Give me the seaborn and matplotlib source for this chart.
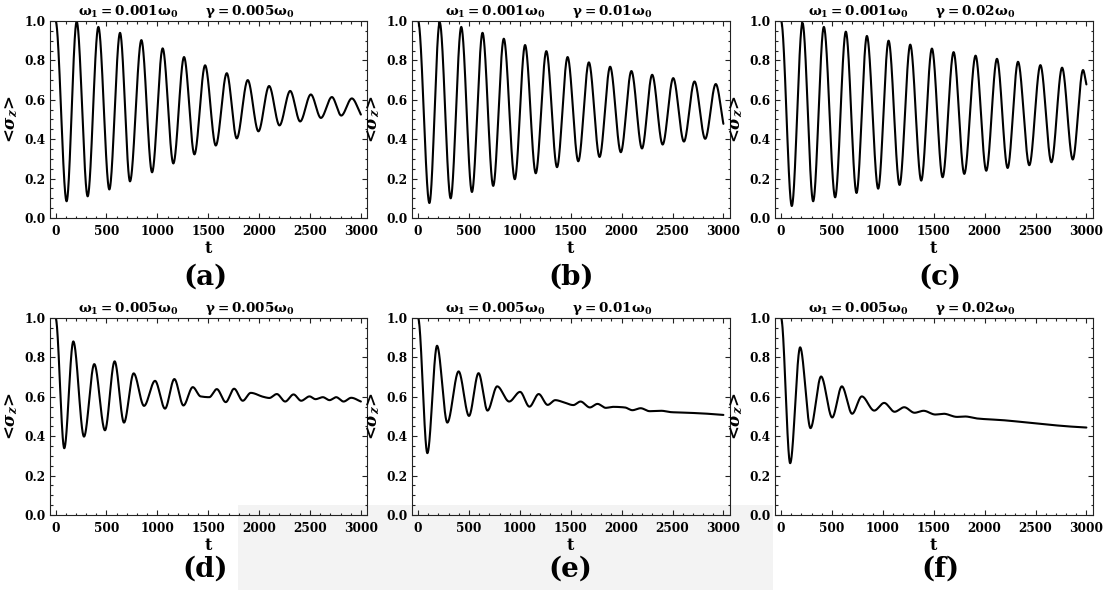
import numpy as np
import pandas as pd
import matplotlib
matplotlib.use("Agg")
import matplotlib.pyplot as plt
from matplotlib.ticker import FixedLocator, MultipleLocator, FixedFormatter
from matplotlib.patches import Rectangle
import seaborn as sns

# ---------------------------------------------------------------------------
# Extrema (and a few shoulder points) of <sigma_z>(t) for each parameter set
# ---------------------------------------------------------------------------
t_a = [0, 108, 207, 315, 420, 528, 633, 731, 843, 948, 1052, 1157, 1262, 1364,
       1469, 1574, 1682, 1780, 1888, 1993, 2098, 2200, 2305, 2403, 2508, 2607,
       2715, 2807, 2911, 3000]
sz_a = [1.0, 0.085, 0.997, 0.11, 0.97, 0.145, 0.94, 0.186, 0.903, 0.232, 0.861,
        0.277, 0.817, 0.323, 0.775, 0.368, 0.735, 0.404, 0.70, 0.44, 0.67, 0.47,
        0.645, 0.49, 0.627, 0.508, 0.614, 0.52, 0.607, 0.525]

t_b = [0, 111, 212, 320, 424, 529, 633, 738, 842, 950, 1051, 1156, 1260, 1365,
       1469, 1574, 1678, 1783, 1887, 1992, 2096, 2200, 2300, 2403, 2507, 2612,
       2716, 2821, 2925, 3000]
sz_b = [1.0, 0.076, 0.993, 0.10, 0.97, 0.132, 0.94, 0.163, 0.91, 0.197, 0.878,
        0.227, 0.847, 0.258, 0.817, 0.288, 0.79, 0.31, 0.768, 0.334, 0.746, 0.353,
        0.727, 0.373, 0.71, 0.388, 0.693, 0.402, 0.68, 0.478]

t_c = [0, 105, 210, 315, 420, 531, 636, 741, 843, 954, 1056, 1164, 1269, 1377,
       1482, 1587, 1695, 1800, 1911, 2016, 2121, 2226, 2328, 2439, 2548, 2656,
       2761, 2866, 2967, 3000]
sz_c = [1.0, 0.061, 0.99, 0.085, 0.97, 0.105, 0.946, 0.127, 0.924, 0.149, 0.90,
        0.168, 0.88, 0.19, 0.86, 0.207, 0.842, 0.224, 0.824, 0.24, 0.808, 0.254,
        0.793, 0.268, 0.776, 0.283, 0.763, 0.297, 0.751, 0.678]

t_d = [0, 85, 174, 279, 380, 485, 580, 672, 767, 869, 977, 1075, 1167, 1256,
       1348, 1425, 1510, 1584, 1672, 1754, 1839, 1918, 2040, 2100, 2174, 2256,
       2338, 2413, 2495, 2554, 2626, 2692, 2757, 2830, 2905, 3000]
sz_d = [1.0, 0.339, 0.881, 0.398, 0.766, 0.43, 0.78, 0.469, 0.719, 0.554, 0.681,
        0.54, 0.69, 0.556, 0.649, 0.602, 0.598, 0.639, 0.573, 0.641, 0.58, 0.62,
        0.600, 0.594, 0.614, 0.576, 0.612, 0.58, 0.602, 0.588, 0.598, 0.583,
        0.598, 0.576, 0.595, 0.576]

t_e = [0, 91, 186, 287, 398, 500, 594, 682, 777, 895, 1002, 1094, 1185, 1273,
       1348, 1427, 1525, 1596, 1688, 1763, 1844, 1916, 2031, 2106, 2187, 2275,
       2390, 2488, 2651, 2814, 3000]
sz_e = [1.0, 0.314, 0.859, 0.469, 0.729, 0.503, 0.72, 0.53, 0.653, 0.576, 0.625,
        0.55, 0.614, 0.559, 0.583, 0.573, 0.558, 0.576, 0.546, 0.564, 0.544,
        0.549, 0.546, 0.532, 0.542, 0.527, 0.529, 0.522, 0.519, 0.515, 0.508]

t_f = [0, 89, 187, 289, 393, 502, 597, 698, 793, 915, 1013, 1115, 1210, 1311,
       1400, 1515, 1597, 1728, 1810, 1924, 2187, 2515, 2843, 3000]
sz_f = [1.0, 0.263, 0.851, 0.441, 0.703, 0.495, 0.653, 0.514, 0.602, 0.53, 0.569,
        0.524, 0.547, 0.519, 0.529, 0.51, 0.514, 0.498, 0.5, 0.49, 0.481, 0.464,
        0.449, 0.444]

omega1_labels = ["0.001", "0.001", "0.001", "0.005", "0.005", "0.005"]
gamma_labels = ["0.005", "0.01", "0.02", "0.005", "0.01", "0.02"]
panel_tags = ["(a)", "(b)", "(c)", "(d)", "(e)", "(f)"]

x_ticks = [0, 500, 1000, 1500, 2000, 2500, 3000]
x_tick_labels = ["0", "500", "1000", "1500", "2000", "2500", "3000"]
y_ticks = [0.0, 0.2, 0.4, 0.6, 0.8, 1.0]
y_tick_labels = ["0.0", "0.2", "0.4", "0.6", "0.8", "1.0"]

series = [(t_a, sz_a), (t_b, sz_b), (t_c, sz_c),
          (t_d, sz_d), (t_e, sz_e), (t_f, sz_f)]


def smooth_through(tk, vk, t):
    """Monotone piecewise-cubic Hermite curve through the given points."""
    tk = np.asarray(tk, float)
    vk = np.asarray(vk, float)
    h = np.diff(tk)
    d = np.diff(vk) / h
    m = np.zeros_like(vk)
    for i in range(1, len(vk) - 1):
        if d[i - 1] * d[i] > 0:
            w1 = 2 * h[i] + h[i - 1]
            w2 = h[i] + 2 * h[i - 1]
            m[i] = (w1 + w2) / (w1 / d[i - 1] + w2 / d[i])
    m[0] = 0.0
    m[-1] = d[-1]
    idx = np.clip(np.searchsorted(tk, t, side="right") - 1, 0, len(tk) - 2)
    s = (t - tk[idx]) / h[idx]
    h00 = 2 * s**3 - 3 * s**2 + 1
    h10 = s**3 - 2 * s**2 + s
    h01 = -2 * s**3 + 3 * s**2
    h11 = s**3 - s**2
    return (h00 * vk[idx] + h10 * h[idx] * m[idx]
            + h01 * vk[idx + 1] + h11 * h[idx] * m[idx + 1])


# ---------------------------------------------------------------------------
# Style
# ---------------------------------------------------------------------------
sns.set_theme(style="ticks")
plt.rcParams["font.family"] = ["DejaVu Serif"]
plt.rcParams["font.weight"] = "bold"
plt.rcParams["text.color"] = "black"
plt.rcParams["axes.labelcolor"] = "black"
plt.rcParams["xtick.color"] = "black"
plt.rcParams["ytick.color"] = "black"
plt.rcParams["mathtext.fontset"] = "custom"
plt.rcParams["mathtext.rm"] = "DejaVu Serif:bold"
plt.rcParams["mathtext.it"] = "DejaVu Serif:italic:bold"
plt.rcParams["mathtext.bf"] = "DejaVu Serif:bold"

W, H = 1111, 590
fig = plt.figure(figsize=(W / 100, H / 100), dpi=100)
fig.patch.set_facecolor("white")

# pale scanned background band behind the lower middle of the figure
fig.patches.append(Rectangle((238 / W, 0), (773 - 238) / W, 85 / H,
                             transform=fig.transFigure, facecolor="#f3f3f3",
                             edgecolor="none", zorder=-10))

col_left = [49.5, 412.0, 775.0]
row_top = [21.0, 318.0]
ax_w, ax_h = 317.5, 197.0
tag_y = [-0.302, -0.277]
tag_x = [0.49, 0.50, 0.52]

t_grid = np.linspace(0, 3000, 3001)

for k, (tk, vk) in enumerate(series):
    r, c = divmod(k, 3)
    left = col_left[c] / W
    bottom = (H - row_top[r] - ax_h) / H
    ax = fig.add_axes([left, bottom, ax_w / W, ax_h / H])
    ax.set_facecolor("none")

    df = pd.DataFrame({"t": t_grid, "sz": smooth_through(tk, vk, t_grid)})
    sns.lineplot(data=df, x="t", y="sz", ax=ax, color="black", linewidth=1.5,
                 estimator=None, sort=False)

    ax.set_xlim(-60, 3060)
    ax.set_ylim(0.0, 1.0)
    ax.xaxis.set_major_locator(FixedLocator(x_ticks))
    ax.xaxis.set_major_formatter(FixedFormatter(x_tick_labels))
    ax.xaxis.set_minor_locator(MultipleLocator(100))
    ax.yaxis.set_major_locator(FixedLocator(y_ticks))
    ax.yaxis.set_major_formatter(FixedFormatter(y_tick_labels))
    ax.yaxis.set_minor_locator(MultipleLocator(0.05))
    ax.tick_params(which="both", direction="in", top=True, right=True,
                   color="#222222", width=0.8)
    ax.tick_params(which="major", length=3.5, labelsize=8.7)
    ax.tick_params(axis="x", which="major", pad=5)
    ax.tick_params(axis="y", which="major", pad=3)
    ax.tick_params(which="minor", length=1.8)
    for lab in ax.get_xticklabels() + ax.get_yticklabels():
        lab.set_fontweight("bold")
    for sp in ax.spines.values():
        sp.set_color("#222222")
        sp.set_linewidth(0.8)

    ax.set_xlabel("t", fontsize=11.5, fontweight="bold")
    ax.xaxis.set_label_coords(0.5, -0.112)
    ax.set_ylabel(r"<$\sigma_z$>", fontsize=12, fontweight="bold")
    ax.yaxis.set_label_coords(-0.093, 0.5)

    title = (r"$\mathrm{\omega_1 = " + omega1_labels[k] + r"\omega_0}$"
             + "      "
             + r"$\mathrm{\gamma = " + gamma_labels[k] + r"\omega_0}$")
    ax.text(0.43, 1.046, title, transform=ax.transAxes, ha="center",
            va="center", fontsize=9.7, fontweight="bold")
    ax.text(tag_x[c], tag_y[r], panel_tags[k], transform=ax.transAxes,
            ha="center", va="center", fontsize=20, fontweight="bold")

fig.savefig("out.png", dpi=100, facecolor="white")
